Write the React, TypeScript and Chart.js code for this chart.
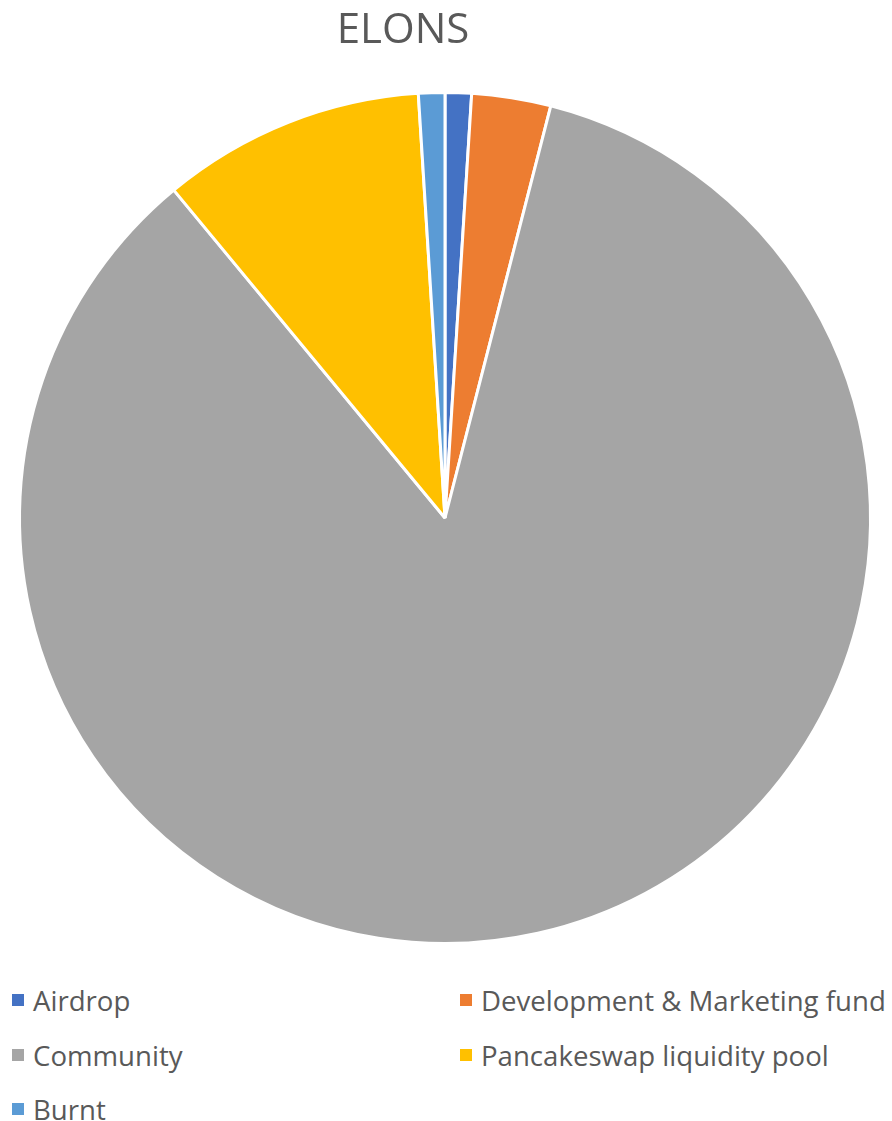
import React, { useEffect, useRef } from "react";
import { Chart, registerables } from "chart.js";

Chart.register(...registerables);

const titleText = "ELONS";
const categories = [
  "Airdrop",
  "Development & Marketing fund",
  "Community",
  "Pancakeswap liquidity pool",
  "Burnt",
];
const values = [1, 3, 85, 10, 1];
const colors = ["#4472C4", "#ED7D31", "#A5A5A5", "#FFC000", "#5B9BD5"];

const FONT = "'Open Sans', sans-serif";
const TEXT_COLOR = "#595959";

export default function App() {
  const canvasRef = useRef<HTMLCanvasElement | null>(null);

  useEffect(() => {
    document.body.style.margin = "0";
    const canvas = canvasRef.current;
    if (!canvas) return;
    const chart = new Chart(canvas, {
      type: "pie",
      data: {
        labels: categories,
        datasets: [
          {
            data: values,
            backgroundColor: colors,
            borderColor: "#FFFFFF",
            borderWidth: 3,
          },
        ],
      },
      options: {
        responsive: false,
        animation: false,
        layout: { padding: { left: 0, right: 2, top: 91, bottom: 15 } },
        plugins: {
          legend: { display: false },
          tooltip: { enabled: false },
          title: { display: false },
        },
      },
    });
    return () => chart.destroy();
  }, []);

  return (
    <div style={{ position: "relative", width: 892, height: 1121, background: "#FFFFFF" }}>
      <div
        style={{
          position: "absolute",
          left: 303,
          width: 200,
          top: 0,
          height: 54,
          lineHeight: "54px",
          textAlign: "center",
          fontFamily: FONT,
          fontSize: 42,
          color: TEXT_COLOR,
        }}
      >
        {titleText}
      </div>
      <canvas ref={canvasRef} width={892} height={960} style={{ display: "block", width: 892, height: 960 }} />
      {categories.map((c, i) => {
        const col = i % 2;
        const row = Math.floor(i / 2);
        const left = col === 0 ? 12 : 460;
        const top = 983 + row * 54.5;
        return (
          <div
            key={c}
            style={{
              position: "absolute",
              left,
              top,
              height: 34,
              display: "flex",
              alignItems: "center",
              fontFamily: FONT,
              fontSize: 27.6,
              color: TEXT_COLOR,
              whiteSpace: "nowrap",
            }}
          >
            <span style={{ display: "inline-block", width: 12, height: 12, background: colors[i], marginRight: 9 }} />
            <span>{c}</span>
          </div>
        );
      })}
    </div>
  );
}
